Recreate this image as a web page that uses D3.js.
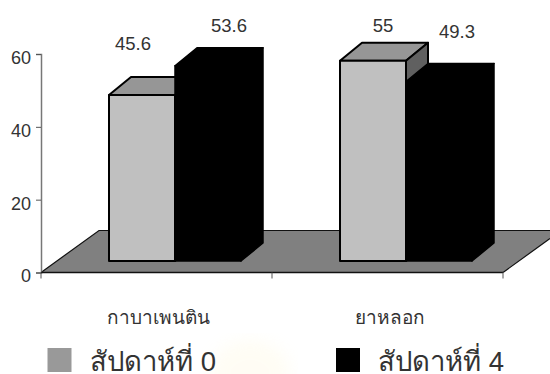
<!DOCTYPE html>
<html><head><meta charset="utf-8">
<script src="https://cdnjs.cloudflare.com/ajax/libs/d3/7.8.5/d3.min.js"></script>
<style>html,body{margin:0;background:#fff}svg{display:block}text{font-family:"Liberation Sans",sans-serif;fill:#333}</style>
</head><body><svg id="c" width="550" height="374"></svg>
<script>
const categories = ["กาบาเพนติน", "ยาหลอก"];
const seriesNames = ["สัปดาห์ที่ 0", "สัปดาห์ที่ 4"];
const week0 = [45.6, 55];
const week4 = [53.6, 49.3];
const yTicks = [0, 20, 40, 60];

const svg = d3.select("#c");
const y = d3.scaleLinear().domain([0, 60]).range([272.5, 54]);
const x = d3.scaleBand().domain(categories).range([41, 503]);
const sub = d3.scaleBand().domain([0, 1]).range([68, 200]);
const floorDepth = [58, -42], barDepth = [22, -18];
const baseline = 261;
const h = v => y(0) - y(v);

// Pale emblem showing through behind the legend
const defs = svg.append("defs");
defs.append("filter").attr("id", "soft").append("feGaussianBlur").attr("stdDeviation", 8);
svg.append("ellipse").attr("cx", 250).attr("cy", 372).attr("rx", 40).attr("ry", 32)
  .attr("fill", "#fff6cf").attr("opacity", 0.22).attr("filter", "url(#soft)");

// Floor of the 3D plot, cut by the edge of the canvas
const floor = svg.append("g");
floor.append("path")
  .attr("d", `M${x.range()[0]},${y(0)}L${x.range()[0]+floorDepth[0]},${y(0)+floorDepth[1]}L550,${y(0)+floorDepth[1]}L550,${y(0)-34}L${x.range()[1]},${y(0)}Z`)
  .attr("fill", "#808080");
floor.append("path")
  .attr("d", `M${x.range()[0]},${y(0)}L${x.range()[0]+floorDepth[0]},${y(0)+floorDepth[1]}L550,${y(0)+floorDepth[1]}M550,${y(0)-34}L${x.range()[1]},${y(0)}`)
  .attr("fill", "none").attr("stroke", "#111").attr("stroke-width", 1.2);

// Value axis
const ay = svg.append("g").attr("transform", `translate(${x.range()[0]},0)`)
  .call(d3.axisLeft(y).tickValues(yTicks).tickSize(5).tickPadding(5).tickFormat(d3.format("d")));
ay.select(".domain").attr("stroke", "#777").attr("stroke-width", 1.5);
ay.selectAll(".tick line").attr("stroke", "#555");
ay.selectAll("text").attr("font-size", 18).attr("dy", "0.52em")
  .style("font-family", '"Liberation Sans",sans-serif').style("fill", "#333");

// Category axis
const ax = svg.append("g").attr("transform", `translate(0,${y(0)})`);
ax.append("line").attr("x1", x.range()[0]).attr("x2", x.range()[1]).attr("stroke", "#111").attr("stroke-width", 1.5);
ax.selectAll("line.t").data([...categories.map(c => x(c)), x.range()[1]]).join("line")
  .attr("class", "t").attr("x1", d => d).attr("x2", d => d).attr("y2", 6).attr("stroke", "#555");
ax.selectAll("text").data(categories).join("text")
  .attr("x", d => x(d) + x.bandwidth()/2 + 2)
  .attr("y", 51.5).attr("text-anchor", "middle").attr("font-size", 19).text(d => d);

// One box: back faces first so the next bar in the group can overlap them
function box(g, x0, w, v, front, top, side, stroke, sw) {
  const yt = baseline - h(v), [dx, dy] = barDepth;
  const face = sel => sel.attr("stroke", stroke).attr("stroke-width", sw).attr("stroke-linejoin", "round");
  g.append("path").attr("d", `M${x0},${yt}L${x0+dx},${yt+dy}L${x0+w+dx},${yt+dy}L${x0+w},${yt}Z`)
    .attr("fill", top).call(face);
  g.append("path").attr("d", `M${x0+w},${yt}L${x0+w+dx},${yt+dy}L${x0+w+dx},${baseline+dy}L${x0+w},${baseline}Z`)
    .attr("fill", side).call(face);
  g.append("rect").attr("x", x0).attr("y", yt).attr("width", w).attr("height", h(v))
    .attr("fill", front).call(face);
}
const bars = svg.append("g");
categories.forEach((c, i) => {
  const g = bars.append("g");
  box(g, x(c) + sub(0), sub.bandwidth(), week0[i], "#c0c0c0", "#969696", "#606060", "#000", 2);
  box(g, x(c) + sub(1), sub.bandwidth(), week4[i], "#000", "#000", "#000", "#000", 1.5);
});

// Value labels, placed by hand above each box
const labelDx = [[-9, 21], [10, 18]];
const labelY = [[50, 32], [32, 38]];
categories.forEach((c, i) => {
  [week0[i], week4[i]].forEach((v, s) => {
    svg.append("text")
      .attr("x", x(c) + sub(s) + sub.bandwidth()/2 + labelDx[i][s])
      .attr("y", labelY[i][s]).attr("text-anchor", "middle")
      .attr("font-size", 18.5).text(v);
  });
});

// Legend
const legend = svg.append("g");
[[47.5, 90, "#999999"], [336, 378, "#000"]].forEach(([sx, tx, col], i) => {
  legend.append("rect").attr("x", sx).attr("y", 348).attr("width", 24).attr("height", 24).attr("fill", col);
  legend.append("text").attr("x", tx).attr("y", 371).attr("font-size", 27.5).text(seriesNames[i]);
});
</script></body></html>
